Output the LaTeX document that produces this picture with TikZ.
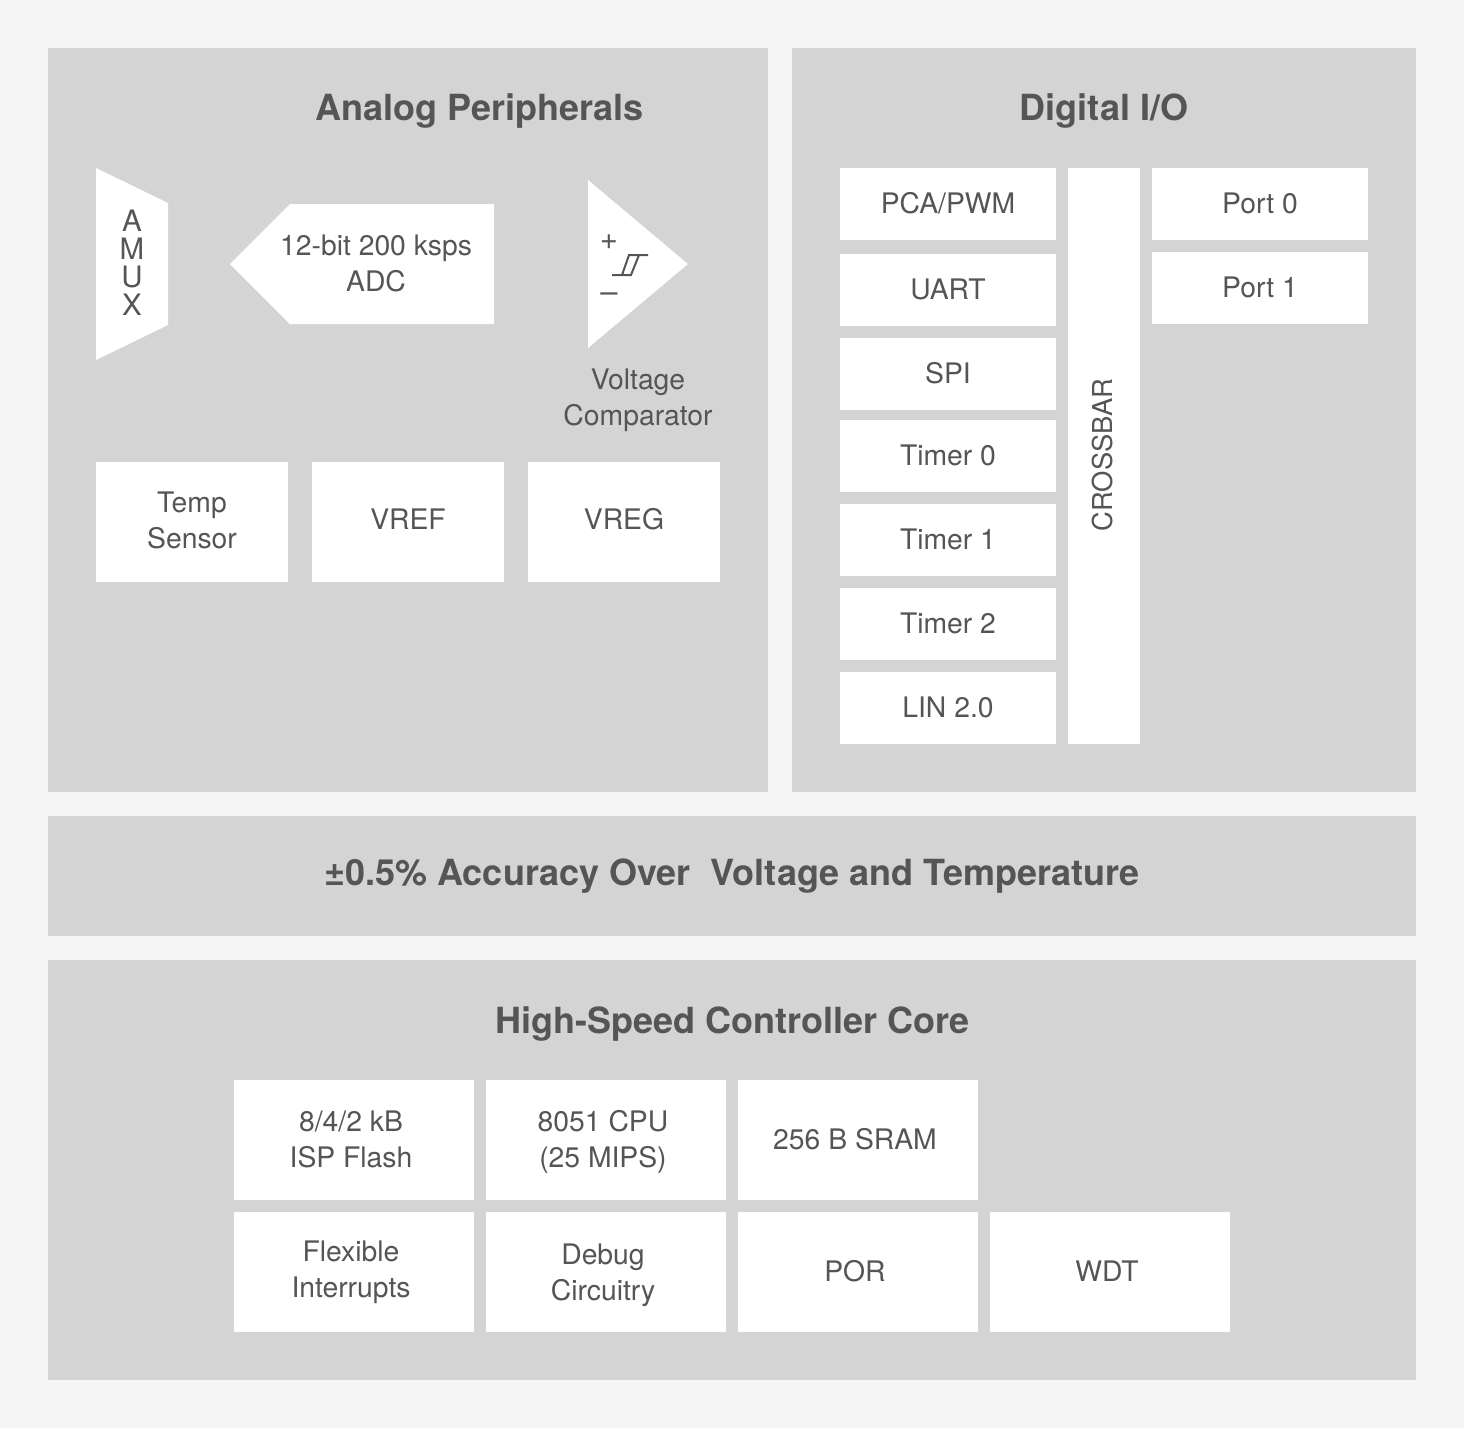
\documentclass[tikz,border=0pt]{standalone}
\usepackage{fontspec}
\usepackage{xcolor}
\usepackage{tikz}
\usetikzlibrary{positioning, calc}
\setmainfont{TeX Gyre Heros}
\definecolor{pagebg}{HTML}{F5F5F5}
\definecolor{panelbg}{HTML}{D4D4D4}
\definecolor{inktext}{HTML}{555555}
\tikzset{
  panel/.style={
    rectangle, fill=panelbg, inner sep=0pt, outer sep=0pt, anchor=north west
  },
  heading/.style={
    font=\fontsize{36}{42}\selectfont\bfseries, text=inktext, inner sep=0pt, anchor=center
  },
  blockbox/.style={
    rectangle, fill=white, inner sep=0pt, outer sep=0pt, align=center,
    font=\fontsize{28.3}{36}\selectfont, text=inktext
  },
  iobox/.style={
    blockbox, minimum width=216pt, minimum height=72pt, text height=18.4pt, text depth=0pt
  },
  anabox/.style={blockbox, minimum width=192pt, minimum height=120pt},
  corebox/.style={blockbox, minimum width=240pt, minimum height=120pt},
  shapefill/.style={fill=white},
  shapetext/.style={
    inner sep=0pt, align=center, font=\fontsize{28.3}{36}\selectfont, text=inktext
  },
  signtext/.style={shapetext, font=\fontsize{31}{36}\selectfont},
  hystline/.style={draw=inktext, line width=2pt},
}
\begin{document}
\begin{tikzpicture}[x=1pt, y=-1pt]
  \node[rectangle, fill=pagebg, minimum width=1464pt, minimum height=1428pt, inner sep=0pt, outer sep=0pt, anchor=north west] (page) at (0,0) {};
  \useasboundingbox (page.north west) rectangle (page.south east);

  % panels
  \node[panel, minimum width=720pt, minimum height=744pt] (analog) at (48,48) {};
  \node[panel, minimum width=624pt, minimum height=744pt] (digital) at (792,48) {};
  \node[panel, minimum width=1368pt, minimum height=120pt] (accuracy) at (48,816) {};
  \node[panel, minimum width=1368pt, minimum height=420pt] (core) at (48,960) {};

  \node[heading] (analogtitle) at (479.5,111) {Analog Peripherals};
  \node[heading] (digitaltitle) at (1104,111) {Digital I/O};
  \node[heading] (accuracytitle) at (732,876) {±0.5\% Accuracy Over\ \ Voltage and Temperature};
  \node[heading] (coretitle) at (732.5,1024) {High-Speed Controller Core};

  % analog shapes
  \path[shapefill] (96,168) -- (168,203) -- (168,325) -- (96,360) -- cycle;
  \path[shapefill] (230,264) -- (290,204) -- (494,204) -- (494,324) -- (290,324) -- cycle;
  \path[shapefill] (588,180) -- (688,264) -- (588,348) -- cycle;
  \node[shapetext, font=\fontsize{29.5}{28}\selectfont] (amux) at (132,263) {A\\M\\U\\X};
  \node[shapetext] (adc) at (376,263) {12-bit 200 ksps\\ADC};
  \node[shapetext] (comparator) at (638,400) {Voltage\\Comparator};
  \node[signtext] (plus) at (609,242) {+};
  \node[signtext] (minus) at (609,298) {–};
  \draw[hystline] (612,275) -- (631,275) -- (639,255) -- (648,255);
  \draw[hystline] (622,275) -- (629,255) -- (639,255);

  \node[anabox] (temp) at (192,522) {};
  \node[anabox, right=24pt of temp] (vref) {};
  \node[anabox, right=24pt of vref] (vreg) {};
  \node[shapetext] (temptext) at (192,520) {Temp\\Sensor};
  \node[shapetext] (vreftext) at (408,519) {VREF};
  \node[shapetext] (vregtext) at (624,519) {VREG};

  % digital column
  \node[iobox] (pca) at (948,204) {PCA/PWM};
  \node[iobox, below=14pt of pca] (uart) {UART};
  \node[iobox, below=12pt of uart] (spi) {SPI};
  \node[iobox, below=10pt of spi] (timer0) {Timer 0};
  \node[iobox, below=12pt of timer0] (timer1) {Timer 1};
  \node[iobox, below=12pt of timer1] (timer2) {Timer 2};
  \node[iobox, below=12pt of timer2] (lin) {LIN 2.0};
  \node[blockbox, minimum width=72pt, minimum height=576pt] (crossbar) at (1104,456) {};
  \node[shapetext, rotate=90, font=\fontsize{27.4}{36}\selectfont] (crossbartext) at (1102,455) {CROSSBAR};
  \node[iobox] (port0) at (1260,204) {Port 0};
  \node[iobox, below=12pt of port0] (port1) {Port 1};

  % core grid
  \node[corebox] (flash) at (354,1140) {};
  \node[corebox, right=12pt of flash] (cpu) {};
  \node[corebox, right=12pt of cpu] (sram) {};
  \node[corebox, below=12pt of flash] (interrupts) {};
  \node[corebox, right=12pt of interrupts] (debug) {};
  \node[corebox, right=12pt of debug] (por) {};
  \node[corebox, right=12pt of por] (wdt) {};
  \node[shapetext] (flashtext) at (351,1139) {8/4/2 kB\\ISP Flash};
  \node[shapetext] (cputext) at (603,1142) {8051 CPU\\(25 MIPS)};
  \node[shapetext] (sramtext) at (855,1139) {256 B SRAM};
  \node[shapetext] (interruptstext) at (351,1272) {Flexible\\Interrupts};
  \node[shapetext] (debugtext) at (603,1275) {Debug\\Circuitry};
  \node[shapetext] (portext) at (855,1271) {POR};
  \node[shapetext] (wdttext) at (1107,1271) {WDT};
\end{tikzpicture}
\end{document}
